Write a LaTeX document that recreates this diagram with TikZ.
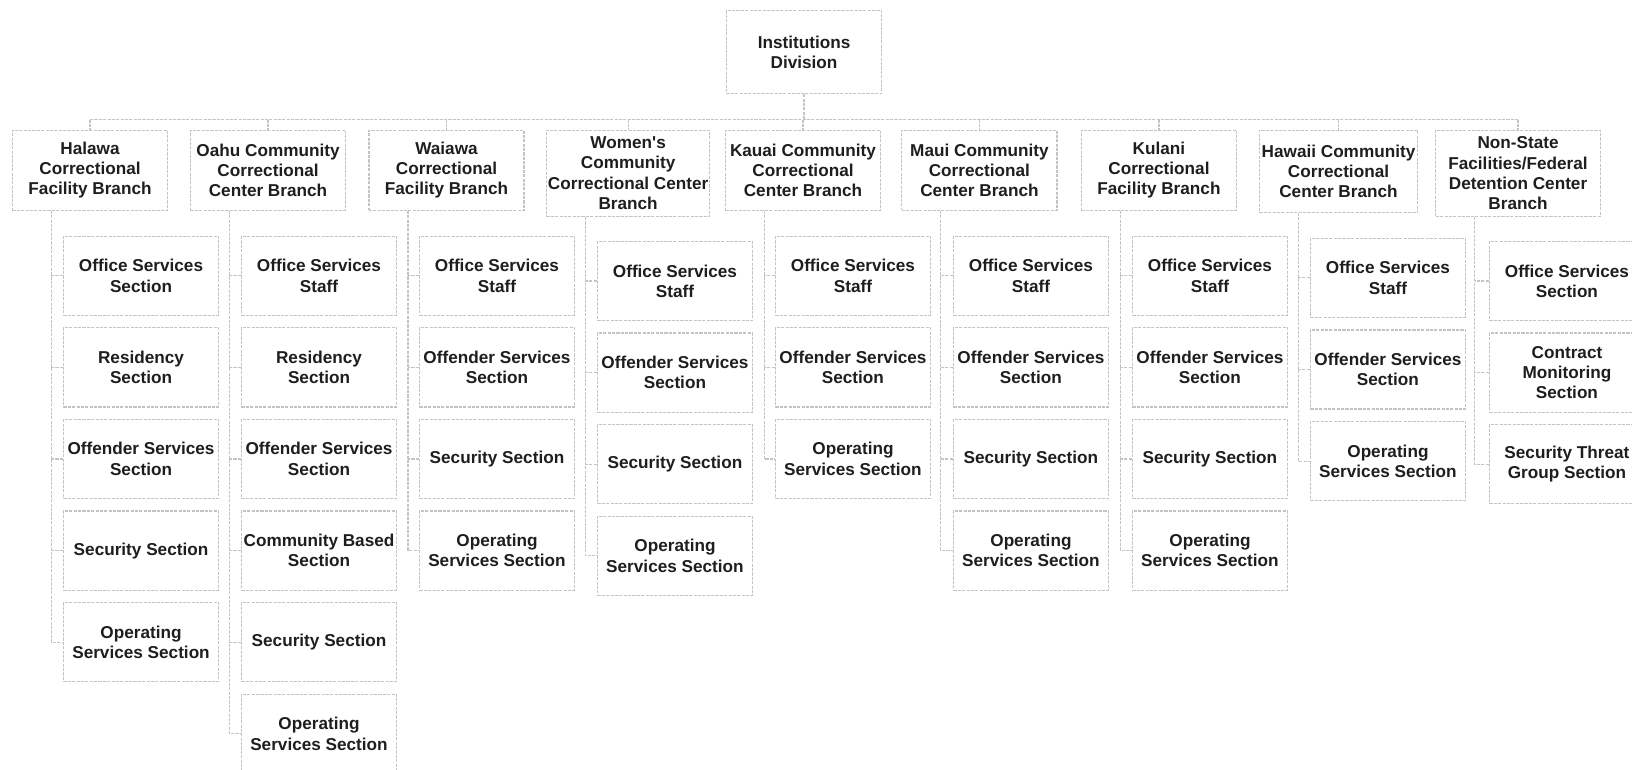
\documentclass[tikz,border=0pt]{standalone}
\usepackage{fontspec}
\setmainfont{Liberation Sans}
\definecolor{linegray}{HTML}{C4C4C4}
\definecolor{textdark}{HTML}{1E1E1E}
\begin{document}
\begin{tikzpicture}[x=1pt,y=-1pt,
  box/.style={draw=linegray, dash pattern=on 3pt off 1.2pt, line width=1.1pt, fill=white,
    align=center, text=textdark, font=\bfseries\fontsize{16.5}{19.5}\selectfont,
    inner sep=0pt, minimum width=149pt, minimum height=76pt},
  branch/.style={box, minimum height=77pt},
  tall/.style={box, minimum height=83pt},
  conn/.style={draw=linegray, dash pattern=on 3pt off 1.2pt, line width=1.1pt}]
\useasboundingbox (0,0) rectangle (1568,739);
\clip (0,0) rectangle (1568,739);
\coordinate (bus) at (0,115);

% root
\node[box, minimum height=80pt] (root) at (772.5,50) {Institutions\\Division};

% branches
\node[branch] (hal) at (86.5,163.5) {Halawa\\Correctional\\Facility Branch};
\node[branch] (oah) at (257.5,163.5) {Oahu Community\\Correctional\\Center Branch};
\node[branch] (wai) at (429,163.5) {Waiawa\\Correctional\\Facility Branch};
\node[tall, minimum width=157pt] (wom) at (603.5,166.5) {Women\textquotesingle s\\Community\\Correctional Center\\Branch};
\node[branch] (kau) at (771.5,163.5) {Kauai Community\\Correctional\\Center Branch};
\node[branch] (mau) at (941,163.5) {Maui Community\\Correctional\\Center Branch};
\node[branch] (kul) at (1113.5,163.5) {Kulani\\Correctional\\Facility Branch};
\node[box, minimum width=152pt, minimum height=79pt] (haw) at (1286,164.5) {Hawaii Community\\Correctional\\Center Branch};
\node[tall, minimum width=158pt] (non) at (1458.5,166.5) {Non-State\\Facilities/Federal\\Detention Center\\Branch};

% bus
\draw[conn] (root.south) -- (root.south |- bus);
\draw[conn] (hal.north |- bus) -- (non.north |- bus);
\foreach \b in {hal,oah,wai,wom,kau,mau,kul,haw,non}
  \draw[conn] (\b.north |- bus) -- (\b.north);

% Halawa children
\node[box] (h1) at (135.5,265) {Office Services\\Section};
\node[box] (h2) at (135.5,353) {Residency\\Section};
\node[box] (h3) at (135.5,441) {Offender Services\\Section};
\node[box] (h4) at (135.5,529) {Security Section};
\node[box] (h5) at (135.5,617) {Operating\\Services Section};

% Oahu children
\node[box] (o1) at (306.5,265) {Office Services\\Staff};
\node[box] (o2) at (306.5,353) {Residency\\Section};
\node[box] (o3) at (306.5,441) {Offender Services\\Section};
\node[box] (o4) at (306.5,529) {Community Based\\Section};
\node[box] (o5) at (306.5,617) {Security Section};
\node[box] (o6) at (306.5,705) {Operating\\Services Section};

% Waiawa children
\node[box] (w1) at (477.5,265) {Office Services\\Staff};
\node[box] (w2) at (477.5,353) {Offender Services\\Section};
\node[box] (w3) at (477.5,441) {Security Section};
\node[box] (w4) at (477.5,529) {Operating\\Services Section};

% Women's children
\node[box] (f1) at (648.5,270) {Office Services\\Staff};
\node[box] (f2) at (648.5,358) {Offender Services\\Section};
\node[box] (f3) at (648.5,446) {Security Section};
\node[box] (f4) at (648.5,534) {Operating\\Services Section};

% Kauai children
\node[box] (k1) at (819.5,265) {Office Services\\Staff};
\node[box] (k2) at (819.5,353) {Offender Services\\Section};
\node[box] (k3) at (819.5,441) {Operating\\Services Section};

% Maui children
\node[box] (m1) at (990.5,265) {Office Services\\Staff};
\node[box] (m2) at (990.5,353) {Offender Services\\Section};
\node[box] (m3) at (990.5,441) {Security Section};
\node[box] (m4) at (990.5,529) {Operating\\Services Section};

% Kulani children
\node[box] (u1) at (1162.5,265) {Office Services\\Staff};
\node[box] (u2) at (1162.5,353) {Offender Services\\Section};
\node[box] (u3) at (1162.5,441) {Security Section};
\node[box] (u4) at (1162.5,529) {Operating\\Services Section};

% Hawaii children
\node[box] (a1) at (1333.5,267) {Office Services\\Staff};
\node[box] (a2) at (1333.5,355) {Offender Services\\Section};
\node[box] (a3) at (1333.5,443) {Operating\\Services Section};

% Non-State children
\node[box] (n1) at (1505.5,270) {Office Services\\Section};
\node[box] (n2) at (1505.5,358) {Contract\\Monitoring\\Section};
\node[box] (n3) at (1505.5,446) {Security Threat\\Group Section};

% drop coordinates
\foreach \b in {hal,oah,wai,wom,kau,mau,kul,haw,non}
  \coordinate (\b d) at ([xshift=38pt]\b.south west);

% child connectors
\draw[conn] (hald) |- (h5.west);
\foreach \c in {h1,h2,h3,h4} \draw[conn] (\c.west) -- (\c.west -| hald);
\draw[conn] (oahd) |- (o6.west);
\foreach \c in {o1,o2,o3,o4,o5} \draw[conn] (\c.west) -- (\c.west -| oahd);
\draw[conn] (waid) |- (w4.west);
\foreach \c in {w1,w2,w3} \draw[conn] (\c.west) -- (\c.west -| waid);
\draw[conn] (womd) |- (f4.west);
\foreach \c in {f1,f2,f3} \draw[conn] (\c.west) -- (\c.west -| womd);
\draw[conn] (kaud) |- (k3.west);
\foreach \c in {k1,k2} \draw[conn] (\c.west) -- (\c.west -| kaud);
\draw[conn] (maud) |- (m4.west);
\foreach \c in {m1,m2,m3} \draw[conn] (\c.west) -- (\c.west -| maud);
\draw[conn] (kuld) |- (u4.west);
\foreach \c in {u1,u2,u3} \draw[conn] (\c.west) -- (\c.west -| kuld);
\draw[conn] (hawd) |- (a3.west);
\foreach \c in {a1,a2} \draw[conn] (\c.west) -- (\c.west -| hawd);
\draw[conn] (nond) |- (n3.west);
\foreach \c in {n1,n2} \draw[conn] (\c.west) -- (\c.west -| nond);
\end{tikzpicture}
\end{document}
